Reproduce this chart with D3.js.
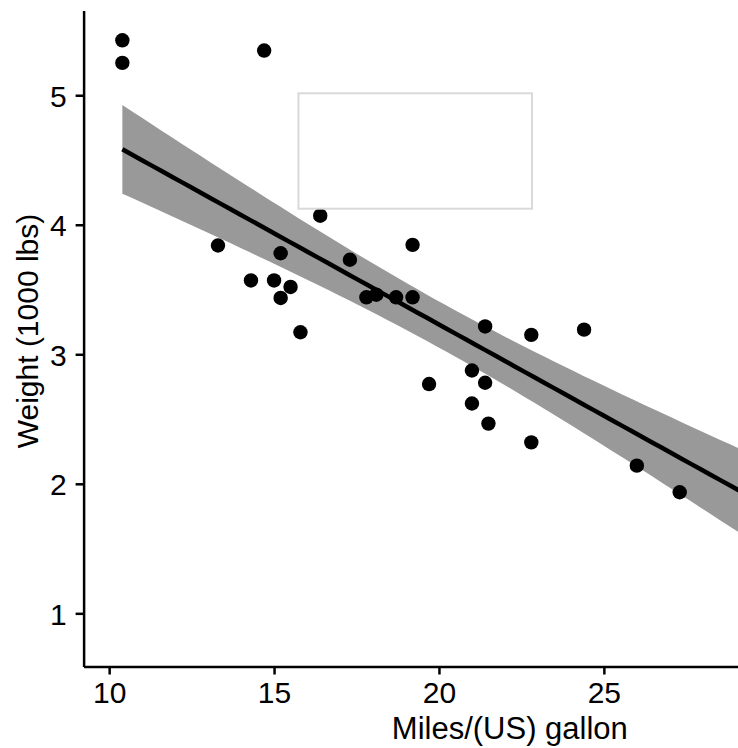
<!DOCTYPE html>
<html>
<head>
<meta charset="utf-8">
<script src="https://cdn.jsdelivr.net/npm/d3@7.9.0/dist/d3.min.js"></script>
<style>
  html, body { margin: 0; padding: 0; background: #fff; }
  svg { display: block; font-family: "Liberation Sans", Arial, sans-serif; }
</style>
</head>
<body>
<svg id="chart" width="738" height="748"></svg>
<script>
// mtcars: miles per gallon and weight (1000 lbs)
const mpg = [21, 21, 22.8, 21.4, 18.7, 18.1, 14.3, 24.4, 22.8, 19.2, 17.8, 16.4, 17.3, 15.2, 10.4, 10.4,
             14.7, 32.4, 30.4, 33.9, 21.5, 15.5, 15.2, 13.3, 19.2, 27.3, 26, 30.4, 15.8, 19.7, 15, 21.4];
const wt = [2.62, 2.875, 2.32, 3.215, 3.44, 3.46, 3.57, 3.19, 3.15, 3.44, 3.44, 4.07, 3.73, 3.78, 5.25, 5.424,
            5.345, 2.2, 1.615, 1.835, 2.465, 3.52, 3.435, 3.84, 3.845, 1.935, 2.14, 1.513, 3.17, 2.77, 3.57, 2.78];

const xTicks = [10, 15, 20, 25];
const yTicks = [1, 2, 3, 4, 5];
const xTitle = 'Miles/(US) gallon';
const yTitle = 'Weight (1000 lbs)';
// empty legend-style box, in data units
const boxX = [15.74, 22.82];
const boxY = [4.124, 5.015];

const data = mpg.map((m, i) => ({mpg: m, wt: wt[i]}));

// linear fit with 95% confidence band (like geom_smooth(method = "lm"))
const n = data.length;
const mx = d3.mean(data, d => d.mpg), my = d3.mean(data, d => d.wt);
const sxx = d3.sum(data, d => (d.mpg - mx) ** 2);
const sxy = d3.sum(data, d => (d.mpg - mx) * (d.wt - my));
const slope = sxy / sxx, icpt = my - slope * mx;
const sres = Math.sqrt(d3.sum(data, d => (d.wt - icpt - slope * d.mpg) ** 2) / (n - 2));
const tq = 2.042272; // qt(0.975, 30)
const [xmin, xmax] = d3.extent(data, d => d.mpg);
const fit = d3.range(80).map(i => {
  const x = xmin + (xmax - xmin) * i / 79;
  const y = icpt + slope * x;
  const se = sres * Math.sqrt(1 / n + (x - mx) ** 2 / sxx);
  return {x, y, lo: y - tq * se, hi: y + tq * se};
});

function expand([a, b]) { const p = (b - a) * 0.05; return [a - p, b + p]; }

const xDom = expand([xmin, xmax]);
const yDom = expand([
  Math.min(d3.min(data, d => d.wt), d3.min(fit, d => d.lo)),
  Math.max(d3.max(data, d => d.wt), d3.max(fit, d => d.hi))
]);

const padL = 83.6, padT = 10.5, padB = 666.5;
const x = d3.scaleLinear().domain(xDom).range([padL, padL + (xDom[1] - xDom[0]) * 32.98]);
const y = d3.scaleLinear().domain(yDom).range([padB, padT]);

const svg = d3.select('#chart');
const fs = 30;

svg.append('path')
  .datum(fit)
  .attr('fill', '#999999')
  .attr('d', d3.area().x(d => x(d.x)).y0(d => y(d.lo)).y1(d => y(d.hi)));

svg.append('path')
  .datum(fit)
  .attr('fill', 'none')
  .attr('stroke', '#000')
  .attr('stroke-width', 4.5)
  .attr('d', d3.line().x(d => x(d.x)).y(d => y(d.y)));

svg.append('g')
  .selectAll('circle')
  .data(data)
  .join('circle')
    .attr('cx', d => x(d.mpg))
    .attr('cy', d => y(d.wt))
    .attr('r', 7.2)
    .attr('fill', '#000');

svg.append('rect')
  .attr('x', x(boxX[0]))
  .attr('y', y(boxY[1]))
  .attr('width', x(boxX[1]) - x(boxX[0]))
  .attr('height', y(boxY[0]) - y(boxY[1]))
  .attr('fill', 'none')
  .attr('stroke', '#d9d9d9')
  .attr('stroke-width', 2);

const xAxis = svg.append('g')
  .attr('transform', `translate(0,${padB})`)
  .call(d3.axisBottom(x).tickValues(xTicks).tickFormat(d3.format('d'))
    .tickSize(8).tickPadding(5).tickSizeOuter(0));
const yAxis = svg.append('g')
  .attr('transform', `translate(${padL},0)`)
  .call(d3.axisLeft(y).tickValues(yTicks).tickFormat(d3.format('d'))
    .tickSize(8).tickPadding(9).tickSizeOuter(0));

[xAxis, yAxis].forEach(g => {
  g.attr('font-family', null).attr('font-size', null);
  g.select('.domain').attr('stroke', '#000').attr('stroke-width', 2.5);
  g.selectAll('.tick line').attr('stroke', '#000').attr('stroke-width', 2.5);
  g.selectAll('.tick text').attr('fill', '#000').style('font-size', fs + 'px');
});
xAxis.selectAll('.tick text').attr('dy', '0.78em');
yAxis.selectAll('.tick text').attr('dy', '0.36em');

svg.append('text')
  .attr('x', (x.range()[0] + x.range()[1]) / 2)
  .attr('y', 739)
  .attr('text-anchor', 'middle')
  .style('font-size', '31px')
  .text(xTitle);

svg.append('text')
  .attr('transform', `translate(38,331) rotate(-90)`)
  .attr('text-anchor', 'middle')
  .style('font-size', fs + 'px')
  .text(yTitle);
</script>
</body>
</html>
